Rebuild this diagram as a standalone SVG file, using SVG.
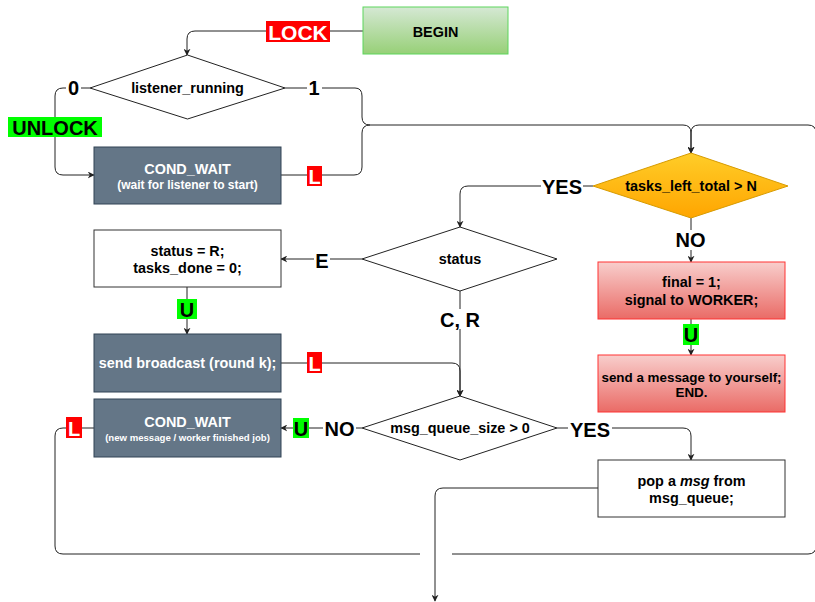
<svg xmlns="http://www.w3.org/2000/svg" width="815" height="602" viewBox="0 0 815 602">
  <defs>
    <linearGradient id="gGreen" x1="0" y1="0" x2="0" y2="1">
      <stop offset="0" stop-color="#d5e8d4"/>
      <stop offset="1" stop-color="#97d077"/>
    </linearGradient>
    <linearGradient id="gOrange" x1="0" y1="0" x2="0" y2="1">
      <stop offset="0" stop-color="#ffcd28"/>
      <stop offset="1" stop-color="#ffa500"/>
    </linearGradient>
    <linearGradient id="gRed" x1="0" y1="0" x2="0" y2="1">
      <stop offset="0" stop-color="#f8cecc"/>
      <stop offset="1" stop-color="#ea6b66"/>
    </linearGradient>
    <marker id="arr" viewBox="0 0 10 10" refX="9" refY="5" markerWidth="7" markerHeight="7" markerUnits="userSpaceOnUse" orient="auto">
      <path d="M0,0 L10,5 L0,10 L3,5 Z" fill="#222"/>
    </marker>
    <style>
      text { font-family: "Liberation Sans", Arial, Helvetica, sans-serif; font-weight: bold; text-anchor: middle; }
      .t { font-size: 14.4px; fill: #000; }
      .tw { font-size: 14.4px; fill: #fff; }
      .ts { font-size: 12px; fill: #fff; }
      .txs { font-size: 9.6px; fill: #fff; }
      .lbl { font-size: 20px; fill: #000; }
      .lblw { font-size: 20px; fill: #fff; }
      .slate { fill: #647687; stroke: #314354; stroke-width: 1; }
      .plain { fill: #fff; stroke: #333; stroke-width: 1; }
      .pink { fill: url(#gRed); stroke: #ff3333; stroke-width: 1; }
      .dia { fill: #fff; stroke: #222; stroke-width: 1; }
      .edge { fill: none; stroke: #222; stroke-width: 1; }
      .bgW { fill: #fff; }
      .bgR { fill: #ff0000; }
      .bgG { fill: #00ff00; }
    </style>
  </defs>

  <!-- connectors -->
  <g id="edges">
    <path class="edge" d="M363,31 H195 Q187,31 187,39 V55" marker-end="url(#arr)"/>
    <path class="edge" d="M90,88 H63 Q55,88 55,96 V167 Q55,175 63,175 H94" marker-end="url(#arr)"/>
    <path class="edge" d="M285,88 H355 Q362,88 362,96 V117 Q362,125 370,125 H683 Q691,125 691,133 V153" marker-end="url(#arr)"/>
    <path class="edge" d="M281,175 H354 Q362,175 362,167 V133 Q362,125 370,125"/>
    <path class="edge" d="M94,428 H63 Q55,428 55,436 V546 Q55,554 63,554 H420"/>
    <path class="edge" d="M452,554 H808 Q816,554 816,546 V133 Q816,125 808,125 H699 Q691,125 691,133 V153" marker-end="url(#arr)"/>
    <path class="edge" d="M593,186 H468 Q460,186 460,194 V227" marker-end="url(#arr)"/>
    <path class="edge" d="M691,218 V262" marker-end="url(#arr)"/>
    <path class="edge" d="M691,319 V355" marker-end="url(#arr)"/>
    <path class="edge" d="M362,259 H281" marker-end="url(#arr)"/>
    <path class="edge" d="M460,291 V396" marker-end="url(#arr)"/>
    <path class="edge" d="M187,287 V334" marker-end="url(#arr)"/>
    <path class="edge" d="M281,363 H452 Q460,363 460,371 V396" marker-end="url(#arr)"/>
    <path class="edge" d="M362,428 H281" marker-end="url(#arr)"/>
    <path class="edge" d="M557,428 H683 Q691,428 691,436 V460" marker-end="url(#arr)"/>
    <path class="edge" d="M598,488 H443 Q435,488 435,496 V601" marker-end="url(#arr)"/>

    <!-- edge labels -->
    <rect class="bgR" x="266" y="21" width="64" height="21"/>
    <text class="lblw" x="298" y="40" style="font-size:21px">LOCK</text>
    <rect class="bgW" x="66" y="79" width="15" height="19"/>
    <text class="lbl" x="73.5" y="95">0</text>
    <rect class="bgG" x="8" y="117" width="94" height="20"/>
    <text class="lbl" x="55" y="135">UNLOCK</text>
    <rect class="bgW" x="307" y="79" width="15" height="19"/>
    <text class="lbl" x="314" y="95">1</text>
    <rect class="bgR" x="307" y="166" width="15" height="20"/>
    <text class="lblw" x="314.5" y="184">L</text>
    <rect class="bgW" x="541" y="177" width="42" height="20"/>
    <text class="lbl" x="562" y="194">YES</text>
    <rect class="bgW" x="675" y="230" width="32" height="20"/>
    <text class="lbl" x="690.5" y="247">NO</text>
    <rect class="bgG" x="683" y="324" width="16" height="21"/>
    <text class="lbl" x="691" y="342">U</text>
    <rect class="bgW" x="314" y="250" width="16" height="20"/>
    <text class="lbl" x="322" y="268">E</text>
    <rect class="bgW" x="438" y="309" width="44" height="20"/>
    <text class="lbl" x="460" y="327">C, R</text>
    <rect class="bgG" x="177" y="299" width="20" height="20"/>
    <text class="lbl" x="187" y="317">U</text>
    <rect class="bgR" x="307" y="352" width="15" height="21"/>
    <text class="lblw" x="314.5" y="371">L</text>
    <rect class="bgW" x="323" y="419" width="33" height="19"/>
    <text class="lbl" x="339.5" y="436">NO</text>
    <rect class="bgG" x="293" y="418" width="16" height="20"/>
    <text class="lbl" x="301" y="436">U</text>
    <rect class="bgR" x="66" y="417" width="16" height="21"/>
    <text class="lblw" x="74" y="436">L</text>
    <rect class="bgW" x="568" y="419" width="44" height="20"/>
    <text class="lbl" x="590" y="437">YES</text>
  </g>

  <g id="begin">
    <rect x="363" y="7" width="145" height="47" fill="url(#gGreen)" stroke="#5cd65c"/>
    <text class="t" x="435.5" y="37">BEGIN</text>
  </g>

  <g id="listener_running">
    <polygon class="dia" points="187.5,55 285,88 187.5,119 90,88"/>
    <text class="t" x="187.5" y="93">listener_running</text>
  </g>

  <g id="cond_wait_listener">
    <rect class="slate" x="94" y="147" width="187" height="57"/>
    <text class="tw" x="187.5" y="174">COND_WAIT</text>
    <text class="ts" x="187.5" y="189">(wait for listener to start)</text>
  </g>

  <g id="tasks_left_total">
    <polygon points="691,153 788,186 691,218 593,186" fill="url(#gOrange)" stroke="#d79b00"/>
    <text class="t" x="691" y="191">tasks_left_total &gt; N</text>
  </g>

  <g id="status">
    <polygon class="dia" points="460,227 557,259 460,291 362,259"/>
    <text class="t" x="460" y="264">status</text>
  </g>

  <g id="status_reset">
    <rect class="plain" x="94" y="230" width="187" height="57"/>
    <text class="t" x="187.5" y="256">status = R;</text>
    <text class="t" x="187.5" y="273">tasks_done = 0;</text>
  </g>

  <g id="final">
    <rect class="pink" x="598" y="262" width="187" height="57"/>
    <text class="t" x="691.5" y="287">final = 1;</text>
    <text class="t" x="691.5" y="305">signal to WORKER;</text>
  </g>

  <g id="broadcast">
    <rect class="slate" x="94" y="334" width="187" height="58"/>
    <text class="tw" x="187.5" y="368">send broadcast (round k);</text>
  </g>

  <g id="end">
    <rect class="pink" x="598" y="355" width="187" height="57"/>
    <text class="t" x="691.5" y="381.5" style="font-size:13.4px">send a message to yourself;</text>
    <text class="t" x="691.5" y="397" style="font-size:13.4px">END.</text>
  </g>

  <g id="cond_wait_msg">
    <rect class="slate" x="94" y="399" width="187" height="58"/>
    <text class="tw" x="187.5" y="427">COND_WAIT</text>
    <text class="txs" x="187.5" y="441">(new message / worker finished job)</text>
  </g>

  <g id="msg_queue_size">
    <polygon class="dia" points="460,396 557,428 460,460 362,428"/>
    <text class="t" x="460" y="433">msg_queue_size &gt; 0</text>
  </g>

  <g id="pop_msg">
    <rect class="plain" x="598" y="460" width="187" height="57"/>
    <text class="t" x="691.5" y="486">pop a <tspan font-style="italic">msg</tspan> from</text>
    <text class="t" x="691.5" y="503">msg_queue;</text>
  </g>
</svg>
